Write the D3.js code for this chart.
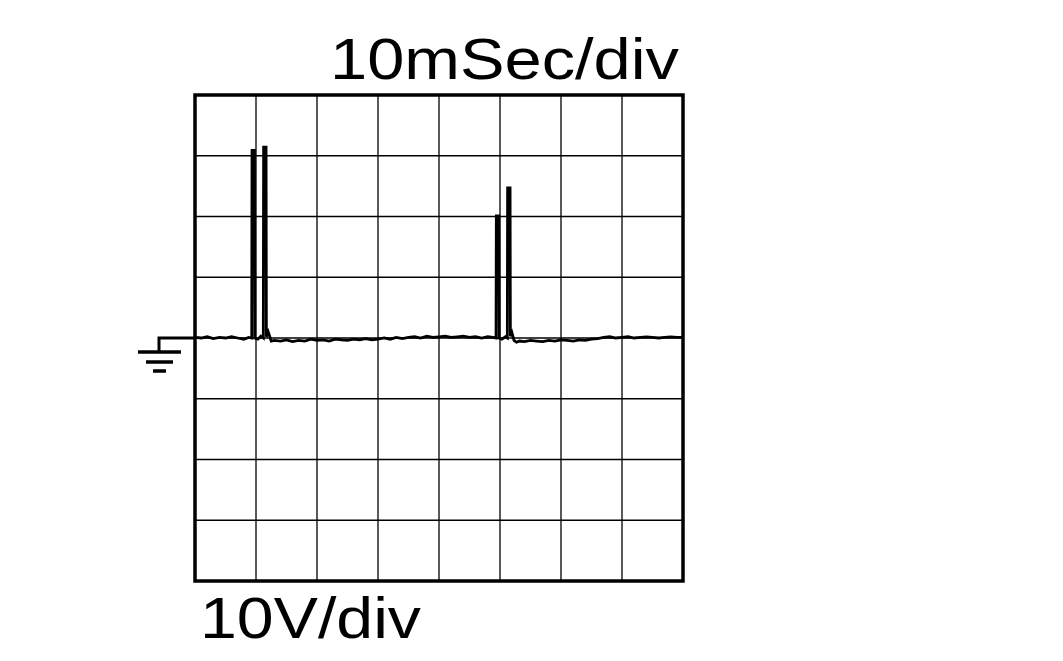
<!DOCTYPE html>
<html>
<head>
<meta charset="utf-8">
<script src="https://cdn.jsdelivr.net/npm/d3@7"></script>
<style>
  html, body { margin: 0; padding: 0; background: #fff; }
  svg { display: block; }
  text { font-family: 'Liberation Sans', Arial, sans-serif; fill: #000; }
</style>
</head>
<body>
<div class="container"></div>
<script>
// 10 ms/div, 10 V/div, 8 x 8 divisions
const timeLabel = '10mSec/div';
const voltLabel = '10V/div';
const timeDomain = [0, 80];
const voltDomain = [-40, 40];
const divStep = 10;

// trace (ms, V)
const timeMs = [
  0, 1, 2, 3, 4, 5, 6, 7, 8, 8.8, 9.3, 9.35, 9.75, 9.8, 10.3, 10.8, 11.2, 11.25, 11.65, 11.7, 12.0, 12.5,
  13, 14, 15, 16, 17, 18, 19, 20, 21, 22, 23, 24, 25, 26, 27, 28, 29, 30, 31, 32, 33, 34, 35, 36,
  37, 38, 39, 40, 41, 42, 43, 44, 45, 46, 47, 48, 48.8, 49.35, 49.4, 49.8, 49.85, 50.3, 50.9,
  51.2, 51.25, 51.65, 51.7, 51.95, 52.3, 52.7, 53.2, 54, 55, 56, 57, 58, 59, 60, 61, 62, 63, 64,
  65, 66, 67, 68, 69, 70, 71, 72, 73, 74, 75, 76, 77, 78, 79, 80
];
const volts = [
  0.1, 0.0, 0.2, -0.1, 0.1, 0.0, 0.2, 0.0, -0.2, 0.1, 0.0, 30.9, 30.9, 0.0, -0.2, 0.3, 0.0, 31.4, 31.4, 0.2, 1.0, -0.5,
  -0.4, -0.5, -0.3, -0.6, -0.4, -0.5, -0.2, -0.4, -0.3, -0.5, -0.2, -0.3, -0.4, -0.2, -0.3, -0.1, -0.3, -0.2, 0.0, -0.2,
  0.1, -0.1, 0.1, 0.2, 0.0, 0.3, 0.1, 0.2, 0.3, 0.1, 0.2, 0.3, 0.1, 0.2, 0.0, 0.2, 0.1, 0.0, 20.1, 20.1, 0.0, -0.2, 0.2,
  0.0, 24.7, 24.7, 0.3, 0.9, -0.4, -0.7, -0.5, -0.6, -0.4, -0.5, -0.6, -0.4, -0.5, -0.3, -0.4, -0.5, -0.3, -0.4,
  -0.2, -0.1, 0.1, 0.2, 0.0, 0.1, 0.2, 0.0, 0.1, 0.2, 0.1, 0.0, 0.1, 0.2, 0.1, 0.1
];

const width = 1063;
const height = 661;

const svg = d3
  .select('.container')
  .append('svg')
  .attr('width', width)
  .attr('height', height);

const x = d3.scaleLinear().domain(timeDomain).range([195, 683]);
const y = d3.scaleLinear().domain(voltDomain).range([581, 95]);

const xTicks = d3.range(timeDomain[0] + divStep, timeDomain[1], divStep);
const yTicks = d3.range(voltDomain[0] + divStep, voltDomain[1], divStep);

// grid
const grid = svg.append('g').attr('class', 'grid');
grid
  .selectAll('.vline')
  .data(xTicks)
  .enter()
  .append('line')
  .attr('x1', d => x(d))
  .attr('x2', d => x(d))
  .attr('y1', y(voltDomain[1]))
  .attr('y2', y(voltDomain[0]))
  .attr('stroke', '#000')
  .attr('stroke-width', 1.3);
grid
  .selectAll('.hline')
  .data(yTicks)
  .enter()
  .append('line')
  .attr('x1', x(timeDomain[0]))
  .attr('x2', x(timeDomain[1]))
  .attr('y1', d => y(d))
  .attr('y2', d => y(d))
  .attr('stroke', '#000')
  .attr('stroke-width', 1.3);

// ground marker
const g0 = y(0);
const gx = x(0) - 36;
const ground = svg.append('g').attr('stroke', '#000').attr('fill', 'none');
ground
  .append('path')
  .attr('d', `M${x(0)},${g0}H${gx}V${g0 + 14}`)
  .attr('stroke-width', 3);
[[gx - 21, gx + 22, 14], [gx - 13, gx + 14, 24], [gx - 6, gx + 7, 33]].forEach(b => {
  ground
    .append('line')
    .attr('x1', b[0])
    .attr('x2', b[1])
    .attr('y1', g0 + b[2])
    .attr('y2', g0 + b[2])
    .attr('stroke-width', 3.5);
});

// trace
const line = d3
  .line()
  .x((d, i) => x(timeMs[i]))
  .y(d => y(d));

svg
  .append('path')
  .datum(volts)
  .attr('d', line)
  .attr('fill', 'none')
  .attr('stroke', '#000')
  .attr('stroke-width', 2.8)
  .attr('stroke-linejoin', 'miter');

// frame
svg
  .append('rect')
  .attr('x', x(timeDomain[0]))
  .attr('y', y(voltDomain[1]))
  .attr('width', x(timeDomain[1]) - x(timeDomain[0]))
  .attr('height', y(voltDomain[0]) - y(voltDomain[1]))
  .attr('fill', 'none')
  .attr('stroke', '#000')
  .attr('stroke-width', 3.5);

// labels
svg
  .append('text')
  .attr('x', 330)
  .attr('y', 79)
  .attr('font-size', 57)
  .attr('textLength', 349)
  .attr('lengthAdjust', 'spacingAndGlyphs')
  .text(timeLabel);

svg
  .append('text')
  .attr('x', 200)
  .attr('y', 638)
  .attr('font-size', 57)
  .attr('textLength', 221)
  .attr('lengthAdjust', 'spacingAndGlyphs')
  .text(voltLabel);
</script>
</body>
</html>
